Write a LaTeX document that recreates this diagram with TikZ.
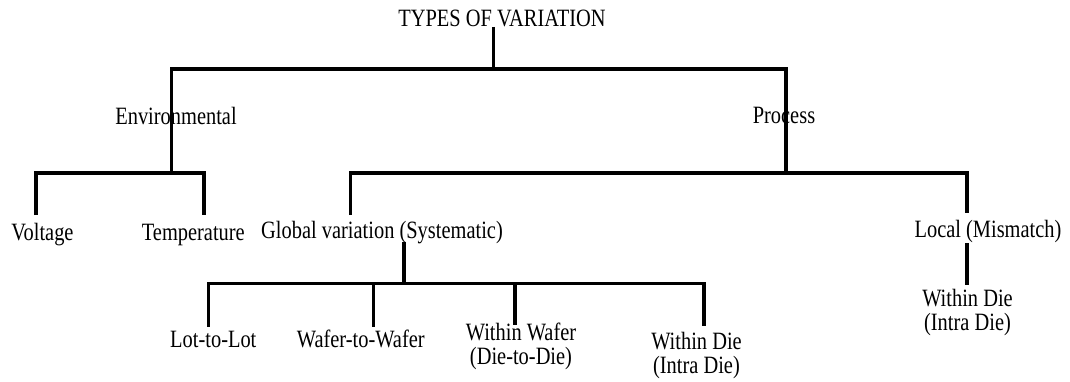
\documentclass[tikz,border=0pt]{standalone}
\usepackage{fontspec}
\setmainfont{Liberation Serif}[FakeStretch=0.82]
\begin{document}
\begin{tikzpicture}[x=1pt,y=-1pt,
  lbl/.style={inner sep=0pt, anchor=base, align=center,
              font=\fontsize{24.9}{24}\selectfont},
  branch/.style={line width=3.6pt, line cap=butt, line join=miter}]
\useasboundingbox (0,0) rectangle (1070,382);

% junction points of the tree
\coordinate (rootS)  at (493.3,27);
\coordinate (rootJ)  at (493.3,69);
\coordinate (envT)   at (171.5,69);
\coordinate (envB)   at (171.5,173.3);
\coordinate (procT)  at (785.7,69);
\coordinate (procB)  at (785.7,173.3);
\coordinate (voltT)  at (36,173.3);
\coordinate (voltB)  at (36,215);
\coordinate (tempT)  at (204,173.3);
\coordinate (tempB)  at (204,215);
\coordinate (globT)  at (350.6,173.3);
\coordinate (globB)  at (350.6,215);
\coordinate (locT)   at (966.7,173.3);
\coordinate (locB)   at (966.7,213);
\coordinate (globS)  at (404,241.7);
\coordinate (globJ)  at (404,283.3);
\coordinate (lotT)   at (208.3,283.3);
\coordinate (lotB)   at (208.3,326.7);
\coordinate (wtwT)   at (373.3,283.3);
\coordinate (wtwB)   at (373.3,326.7);
\coordinate (wwT)    at (515,283.3);
\coordinate (wwB)    at (515,325);
\coordinate (wdT)    at (704,283.3);
\coordinate (wdB)    at (704,326);
\coordinate (locS)   at (966.7,243);
\coordinate (locE)   at (966.7,285);

% connectors
\draw[branch] (rootS) -- (rootJ);
\draw[branch] (envB) -- (envT) -- (procT) -- (procB);
\draw[branch] (voltB) -- (voltT) -- (tempT) -- (tempB);
\draw[branch] (globB) -- (globT) -- (locT) -- (locB);
\draw[branch] (globS) -- (globJ);
\draw[branch] (lotB) -- (lotT) -- (wdT) -- (wdB);
\draw[branch] (wtwT) -- (wtwB);
\draw[branch] (wwT) -- (wwB);
\draw[branch] (locS) -- (locE);

% labels (two-line labels are anchored on the baseline of their last line)
\node[lbl] (root)  at (502,26.7)    {TYPES OF VARIATION};
\node[lbl] (env)   at (176,125)     {Environmental};
\node[lbl] (proc)  at (784,124)     {Process};
\node[lbl] (volt)  at (42.5,240)    {Voltage};
\node[lbl] (temp)  at (193.3,240)   {Temperature};
\node[lbl] (glob)  at (382,238)     {Global variation (Systematic)};
\node[lbl] (local) at (988,237)     {Local (Mismatch)};
\node[lbl] (lot)   at (213.3,347.3) {Lot-to-Lot};
\node[lbl] (wtw)   at (360.8,347.3) {Wafer-to-Wafer};
\node[lbl] (ww)    at (521,364)     {Within Wafer\\(Die-to-Die)};
\node[lbl] (wd)    at (696.5,373)   {Within Die\\(Intra Die)};
\node[lbl] (lwd)   at (967.5,330)   {Within Die\\(Intra Die)};
\end{tikzpicture}
\end{document}
